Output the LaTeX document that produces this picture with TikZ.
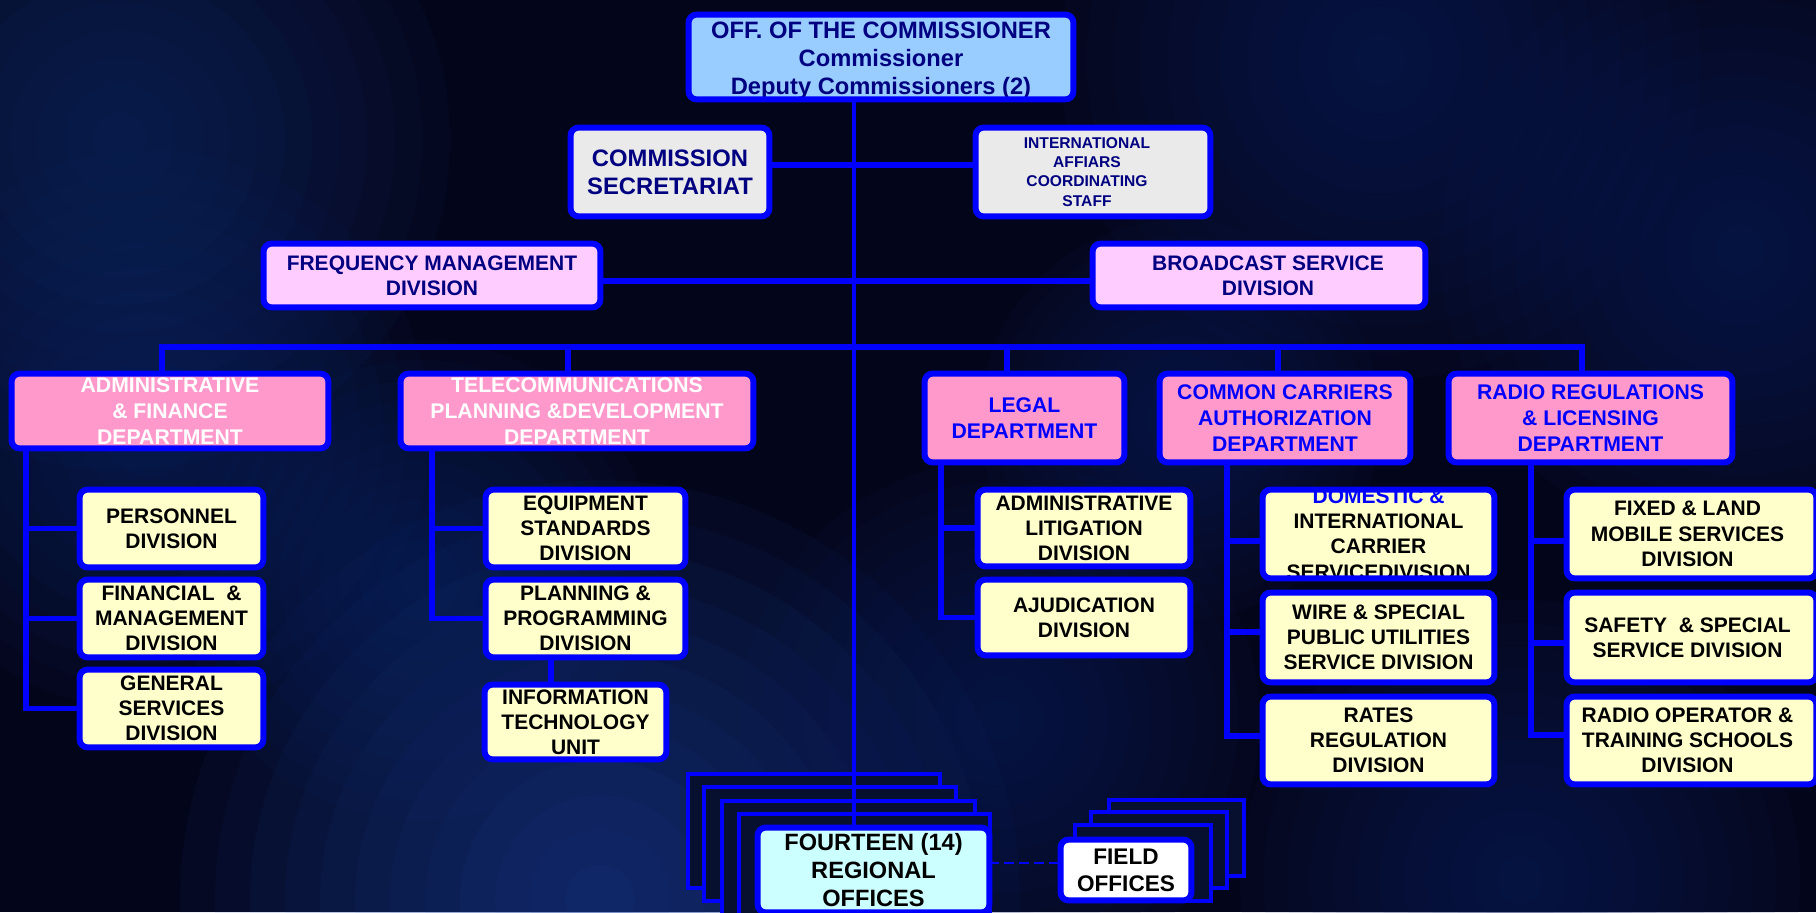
\documentclass[tikz,border=0pt]{standalone}
\usepackage{fontspec}
\setmainfont{Liberation Sans}
\usetikzlibrary{calc}
\pgfdeclarelayer{bg}\pgfdeclarelayer{stack}\pgfdeclarelayer{lines}
\pgfsetlayers{bg,stack,lines,main}
\definecolor{bgc}{HTML}{03051A}
\definecolor{blobA}{HTML}{14306E}
\definecolor{blobB}{HTML}{1E44A0}
\definecolor{blobC}{HTML}{12296A}
\definecolor{blobD}{HTML}{122260}
\definecolor{lb}{HTML}{0000FF}
\definecolor{navy}{HTML}{000080}
\definecolor{topf}{HTML}{99CCFF}
\definecolor{grayf}{HTML}{EAEAEA}
\definecolor{lpink}{HTML}{FFCCFF}
\definecolor{pinkf}{HTML}{FF99CC}
\definecolor{cream}{HTML}{FFFFCC}
\definecolor{cyanf}{HTML}{CCFFFF}
\definecolor{stackf}{HTML}{081030}
\tikzset{
 boxbase/.style={rectangle, rounded corners=4pt, inner sep=0pt, draw=none},
 border/.style={draw=lb, line width=3pt, rounded corners=4pt},
 conn/.style={draw=lb, line width=2.8pt},
 spineline/.style={draw=lb, line width=2.2pt},
 dashline/.style={draw=lb, line width=1pt, dash pattern=on 5pt off 2.5pt},
 stackrect/.style={draw=lb, line width=2.3pt, fill=stackf},
 txt/.style={align=center, inner sep=0pt},
 ttop/.style={txt, text=navy, font=\fontsize{11.85}{14}\selectfont\bfseries},
 tsec/.style={txt, text=navy, font=\fontsize{11.9}{14}\selectfont\bfseries},
 tintl/.style={txt, text=navy, font=\fontsize{7.8}{9.6}\selectfont\bfseries},
 tfreq/.style={txt, text=navy, font=\fontsize{10.5}{12.5}\selectfont\bfseries},
 tdw/.style={txt, text=white, font=\fontsize{10.6}{12.9}\selectfont\bfseries},
 tdb/.style={txt, text=lb, font=\fontsize{10.6}{12.9}\selectfont\bfseries},
 tsub/.style={txt, text=black, font=\fontsize{10.5}{12.6}\selectfont\bfseries},
 treg/.style={txt, text=black, font=\fontsize{11.8}{14}\selectfont\bfseries},
 tfield/.style={txt, text=black, font=\fontsize{11.3}{13.5}\selectfont\bfseries},
}
\newcommand\bx[8]{%
 \pgfmathsetmacro\bw{(#4-#2-6)*0.5}%
 \pgfmathsetmacro\bh{(#5-#3-6)*0.5}%
 \node[boxbase,fill=#6,minimum width=\bw pt,minimum height=\bh pt] (#1) at ({(#2+#4)/2},{(#3+#5)/2}) {};
 \node[#7] (#1t) at (#1.center) {#8};
 \draw[border] (#1.south west) rectangle (#1.north east);
}
% soft cloud: x, y, radius, colour
\newcommand\cloud[4]{%
 \foreach \k in {1,...,12}{\fill[#4, opacity=0.075] (#1,#2) circle[radius={#3*\k/12}];}%
}
\begin{document}
\begin{tikzpicture}[x=0.5pt,y=-0.5pt]
\useasboundingbox (0,0) rectangle (1816,912);
\clip (0,0) rectangle (1816,912);
% ---------- background
\begin{pgfonlayer}{bg}
\fill[bgc] (0,0) rectangle (1816,912);
\cloud{120}{140}{330}{blobA}
\cloud{150}{430}{280}{blobC}
\cloud{600}{900}{420}{blobB}
\cloud{420}{580}{240}{blobC}
\cloud{1000}{720}{260}{blobD}
\cloud{1380}{60}{320}{blobD}
\cloud{1740}{250}{300}{blobD}
\cloud{1520}{880}{280}{blobD}
\cloud{1180}{420}{200}{blobD}
\end{pgfonlayer}
% ---------- stacked back sheets
\begin{pgfonlayer}{stack}
\draw[stackrect] (688,774) rectangle (940,888);
\draw[stackrect] (704,787) rectangle (956,901);
\draw[stackrect] (722,801) rectangle (975,930);
\draw[stackrect] (739,814) rectangle (990,930);
\draw[stackrect] (1109,800) rectangle (1244,876);
\draw[stackrect] (1091,812) rectangle (1227,888);
\draw[stackrect] (1075,825) rectangle (1211,901);
\end{pgfonlayer}
% ---------- boxes
\bx{top}{686}{12}{1076}{102}{topf}{ttop,yshift=-2pt}{OFF. OF THE COMMISSIONER\\Commissioner\\Deputy Commissioners (2)}
\bx{sec}{568}{125}{772}{219}{grayf}{tsec}{COMMISSION\\SECRETARIAT}
\bx{intl}{973}{125}{1213}{219}{grayf}{tintl,xshift=-3pt}{INTERNATIONAL\\AFFIARS\\COORDINATING\\STAFF}
\bx{freq}{261}{241}{603}{310}{lpink}{tfreq}{FREQUENCY MANAGEMENT\\DIVISION}
\bx{bcast}{1090}{241}{1428}{310}{lpink}{tfreq,xshift=4.5pt}{BROADCAST SERVICE\\DIVISION}
\bx{admin}{9}{371}{331}{451}{pinkf}{tdw}{ADMINISTRATIVE\\\& FINANCE\\DEPARTMENT}
\bx{tele}{398}{371}{756}{451}{pinkf}{tdw}{TELECOMMUNICATIONS\\PLANNING \&DEVELOPMENT\\DEPARTMENT}
\bx{legal}{922}{371}{1127}{465}{pinkf}{tdb}{LEGAL\\DEPARTMENT}
\bx{cc}{1157}{371}{1413}{465}{pinkf}{tdb}{COMMON CARRIERS\\AUTHORIZATION\\DEPARTMENT}
\bx{rr}{1446}{371}{1735}{465}{pinkf}{tdb}{RADIO REGULATIONS\\\& LICENSING\\DEPARTMENT}
\bx{pers}{77}{487}{266}{570}{cream}{tsub}{PERSONNEL\\DIVISION}
\bx{fin}{77}{577}{266}{660}{cream}{tsub}{FINANCIAL\ \ \&\\MANAGEMENT\\DIVISION}
\bx{gen}{77}{667}{266}{750}{cream}{tsub}{GENERAL\\SERVICES\\DIVISION}
\bx{equip}{483}{487}{688}{570}{cream}{tsub}{EQUIPMENT\\STANDARDS\\DIVISION}
\bx{plan}{483}{577}{688}{660}{cream}{tsub}{PLANNING \&\\PROGRAMMING\\DIVISION}
\bx{info}{482}{682}{669}{762}{cream}{tsub}{INFORMATION\\TECHNOLOGY\\UNIT}
\bx{admlit}{975}{487}{1193}{569}{cream}{tsub}{ADMINISTRATIVE\\LITIGATION\\DIVISION}
\bx{ajud}{975}{577}{1193}{658}{cream}{tsub}{AJUDICATION\\DIVISION}
\bx{dom}{1260}{487}{1497}{581}{cream}{tsub}{{\color{lb}DOMESTIC \&}\\INTERNATIONAL\\CARRIER\\SERVICEDIVISION}
\bx{wire}{1260}{590}{1497}{685}{cream}{tsub}{WIRE \& SPECIAL\\PUBLIC UTILITIES\\SERVICE DIVISION}
\bx{rates}{1260}{694}{1497}{787}{cream}{tsub}{RATES\\REGULATION\\DIVISION}
\bx{fixed}{1564}{487}{1819}{581}{cream}{tsub,xshift=-2pt}{FIXED \& LAND\\MOBILE SERVICES\\DIVISION}
\bx{safety}{1564}{590}{1819}{685}{cream}{tsub,xshift=-2pt}{SAFETY\ \ \& SPECIAL\\SERVICE DIVISION}
\bx{radop}{1564}{694}{1819}{787}{cream}{tsub,xshift=-2pt}{RADIO OPERATOR \&\\TRAINING SCHOOLS\\DIVISION}
\bx{reg}{755}{825}{992}{915}{cyanf}{treg}{FOURTEEN (14)\\REGIONAL\\OFFICES}
\bx{field}{1058}{837}{1194}{903}{white}{tfield}{FIELD\\OFFICES}
% ---------- connectors
\begin{pgfonlayer}{lines}
\coordinate (spine) at (854,0);
\draw[spineline] (top.south -| spine) -- (reg.north -| spine);
\draw[conn] (sec.east |- 0,165) -- (intl.west |- 0,165);
\draw[conn] (freq.east |- 0,281) -- (bcast.west |- 0,281);
\draw[conn] (admin.north -| 162,0) -- (162,347) -- (1582,347) -- (rr.north -| 1582,0);
\draw[conn] (tele.north -| 568,0) -- (568,347);
\draw[conn] (legal.north -| 1007,0) -- (1007,347);
\draw[conn] (cc.north -| 1278,0) -- (1278,347);
% admin children
\draw[conn] (admin.south -| 26,0) |- (gen.west);
\draw[conn] (26,0 |- pers.west) -- (pers.west);
\draw[conn] (26,0 |- fin.west) -- (fin.west);
% telecom children
\draw[conn] (tele.south -| 432,0) |- (plan.west);
\draw[conn] (432,0 |- equip.west) -- (equip.west);
\draw[conn] (plan.south -| 551,0) -- (info.north -| 551,0);
% legal children
\draw[conn] (legal.south -| 941,0) |- (ajud.west);
\draw[conn] (941,0 |- admlit.west) -- (admlit.west);
% common carriers children
\draw[conn] (cc.south -| 1227,0) |- (rates.west |- 0,736);
\draw[conn] (1227,541) -- (dom.west |- 0,541);
\draw[conn] (1227,632) -- (wire.west |- 0,632);
% radio regulations children
\draw[conn] (rr.south -| 1531,0) |- (radop.west |- 0,735);
\draw[conn] (1531,541) -- (fixed.west |- 0,541);
\draw[conn] (1531,643) -- (safety.west |- 0,643);
% regional to field
\draw[dashline] (reg.east |- 0,863) -- (field.west |- 0,863);
\end{pgfonlayer}
\end{tikzpicture}
\end{document}
